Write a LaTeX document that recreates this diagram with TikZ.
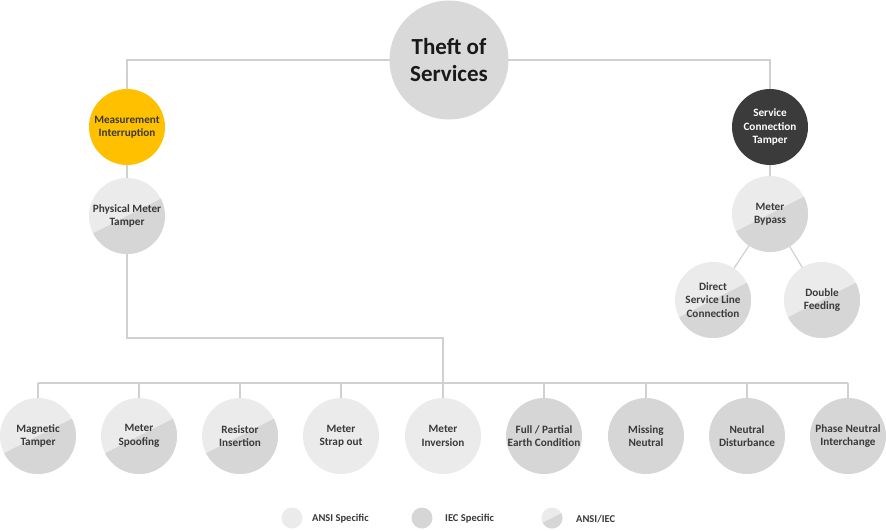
\documentclass[tikz,border=0pt]{standalone}
\usepackage{fontspec}
\setmainfont{Carlito}
\usetikzlibrary{backgrounds}
\definecolor{ansiC}{HTML}{EBEBEB}
\definecolor{iecC}{HTML}{D6D6D6}
\definecolor{mainC}{HTML}{D9D9D9}
\definecolor{goldC}{HTML}{FFC000}
\definecolor{darkC}{HTML}{3B3B3B}
\definecolor{lineC}{HTML}{D0D0D0}
\definecolor{txtC}{HTML}{3A3A3A}
\tikzset{
  circ/.style={circle,minimum size=76pt,inner sep=0pt,align=center,
    font=\bfseries\fontsize{11.2}{13.5}\selectfont,text=txtC},
  ansi/.style={circ,fill=ansiC},
  iec/.style={circ,fill=iecC},
  halfsplit/.style={path picture={
    \fill[iecC] (path picture bounding box.center) ++(27:#1) -- ++(-63:#1)
      -- ++(207:2*#1) -- ++(117:#1) -- cycle;}},
  both/.style={circ,fill=ansiC,halfsplit=60pt},
  conn/.style={draw=lineC,line width=1.2pt},
  legtxt/.style={anchor=west,font=\bfseries\fontsize{10.5}{12}\selectfont,text=txtC,inner sep=0pt}
}
\begin{document}
\begin{tikzpicture}[x=1pt,y=-1pt]
\useasboundingbox (0,0) rectangle (886,530);
% top
\node[circle,minimum size=119pt,inner sep=0pt,fill=mainC,align=center,
  font=\bfseries\fontsize{23}{27}\selectfont,text=black!90] (main) at (449,60) {Theft of\\Services};
\node[circ,fill=goldC] (mi) at (127,127) {Measurement\\Interruption};
\node[both] (pmt) at (127,216) {Physical Meter\\Tamper};
\node[circ,fill=darkC,text=white] (sct) at (770,127) {Service\\Connection\\Tamper};
\node[both] (mb) at (770,214) {Meter\\Bypass};
\node[both] (dsl) at (713,300) {Direct\\Service Line\\Connection};
\node[both] (df) at (822,300) {Double\\Feeding};
% bottom row
\node[both] (b1) at (38,436) {Magnetic\\Tamper};
\node[both] (b2) at (139,436) {Meter\\Spoofing};
\node[both] (b3) at (240,436) {Resistor\\Insertion};
\node[ansi] (b4) at (341,436) {Meter\\Strap out};
\node[ansi] (b5) at (443,436) {Meter\\Inversion};
\node[iec] (b6) at (544,436) {Full / Partial\\Earth Condition};
\node[iec] (b7) at (646,436) {Missing\\Neutral};
\node[iec] (b8) at (747,436) {Neutral\\Disturbance};
\node[iec] (b9) at (848,436) {Phase Neutral\\Interchange};
\coordinate (jn) at (443,338);
\coordinate (bar) at (443,383);
% connectors
\begin{scope}[on background layer]
\draw[conn] (main.center) -| (mi.center);
\draw[conn] (main.center) -| (sct.center);
\draw[conn] (mi.center) -- (pmt.center);
\draw[conn] (pmt.center) |- (jn) -- (b5.center);
\draw[conn] (b1.center |- bar) -- (b9.center |- bar);
\foreach \b in {b1,b2,b3,b4,b6,b7,b8,b9}{\draw[conn] (\b.center |- bar) -- (\b.center);}
\draw[conn] (sct.center) -- (mb.center);
\draw[conn] (mb.center) -- (dsl.center);
\draw[conn] (mb.center) -- (df.center);
\end{scope}
% legend
\node[circle,minimum size=21pt,inner sep=0pt,fill=ansiC] (l1) at (292,518) {};
\node[legtxt] (t1) at (312,519) {ANSI Specific};
\node[circle,minimum size=21pt,inner sep=0pt,fill=iecC] (l2) at (422,518) {};
\node[legtxt] (t2) at (445,519) {IEC Specific};
\node[circle,minimum size=21pt,inner sep=0pt,fill=ansiC,halfsplit=20pt] (l3) at (552,518) {};
\node[legtxt] (t3) at (576,519) {ANSI/IEC};
\end{tikzpicture}
\end{document}
